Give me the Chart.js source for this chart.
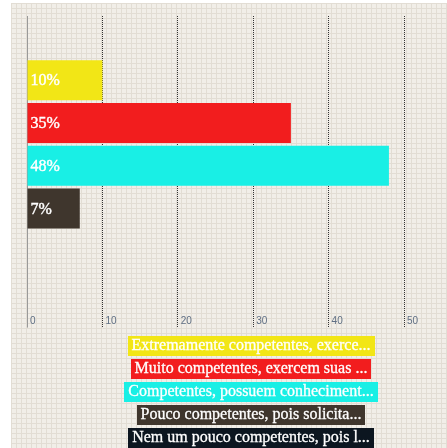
<!DOCTYPE html>
<html>
<head>
<meta charset="utf-8">
<script src="https://cdn.jsdelivr.net/npm/chart.js@4/dist/chart.umd.min.js"></script>
<style>
  html, body { margin: 0; padding: 0; background: #fff; }
  #wrap { position: relative; width: 447px; height: 448px; overflow: hidden; }
  #paper {
    position: absolute; left: 11px; top: 3px; right: 0; bottom: 0;
    background-color: #f1eee8;
    background-image:
      linear-gradient(to right, #e2ddd4 1px, transparent 1px),
      linear-gradient(to bottom, #e2ddd4 1px, transparent 1px);
    background-size: 5px 5px;
  }
  #box { position: absolute; left: 0; top: 0; width: 447px; height: 340px; }
  #legenda {
    position: absolute; left: 55px; top: 336px; width: 392px;
    display: flex; flex-direction: column; align-items: center; gap: 3px;
  }
  #legenda span {
    display: block; padding: 0 4px; height: 20px; line-height: 20px;
    color: #fff; font: 16px "Liberation Serif", "Times New Roman", serif; white-space: nowrap;
    -webkit-text-stroke: 0.3px #fff;
  }
</style>
</head>
<body>
<div id="wrap">
  <div id="paper"></div>
  <div id="box"><canvas id="chartCompetencia"></canvas></div>
  <div id="legenda"></div>
</div>
<script>
// Respostas
const categorias = [
  "Extremamente competentes, exerce...",
  "Muito competentes, exercem suas ...",
  "Competentes, possuem conheciment...",
  "Pouco competentes, pois solicita...",
  "Nem um pouco competentes, pois l..."
];
const percentuais = [10, 35, 48, 7, 0];
const cores = ["#f2e616", "#f21d1e", "#19efe5", "#3f362d", "#0c1620"];

// uma faixa vazia em cima e outra embaixo
const rotulos = ["", ...categorias, ""];
const valores = [null, ...percentuais, null];
const coresBarras = ["transparent", ...cores, "transparent"];

// texto "xx%" dentro das barras
const rotuloBarra = {
  id: "rotuloBarra",
  afterDatasetsDraw(chart) {
    const ctx = chart.ctx;
    const meta = chart.getDatasetMeta(0);
    ctx.save();
    ctx.fillStyle = "#fff";
    ctx.strokeStyle = "#fff";
    ctx.lineWidth = 0.4;
    ctx.font = '16px "Liberation Serif", serif';
    ctx.textAlign = "left";
    ctx.textBaseline = "middle";
    meta.data.forEach((bar, i) => {
      const v = valores[i];
      if (!v) return;
      ctx.fillText(v + "%", bar.base + 3, bar.y + 1);
      ctx.strokeText(v + "%", bar.base + 3, bar.y + 1);
    });
    ctx.restore();
  }
};

const zero = c => c.tick && c.tick.value === 0;

const ctx = document.getElementById("chartCompetencia");
new Chart(ctx, {
  type: "bar",
  data: {
    labels: rotulos,
    datasets: [{
      data: valores,
      backgroundColor: coresBarras,
      borderWidth: 0,
      categoryPercentage: 1,
      barPercentage: 0.935
    }]
  },
  options: {
    indexAxis: "y",
    responsive: true,
    maintainAspectRatio: false,
    animation: false,
    devicePixelRatio: 1,
    layout: { padding: { left: 27, right: 43, top: 16, bottom: 12.4 } },
    plugins: { legend: { display: false }, tooltip: { enabled: false } },
    scales: {
      y: { display: false },
      x: {
        min: 0,
        max: 50,
        afterFit: s => { s.height = 12; },
        ticks: {
          stepSize: 10,
          align: "start",
          labelOffset: 3,
          mirror: true,
          padding: -12,
          color: "#5f6f84",
          font: { family: '"Liberation Sans", sans-serif', size: 10 }
        },
        grid: {
          color: c => zero(c) ? "#999" : "#333",
          tickColor: c => zero(c) ? "#999" : "#333",
          tickBorderDash: c => zero(c) ? [] : [1, 1],
          tickLength: 12,
          lineWidth: 1
        },
        border: { display: false, dash: c => zero(c) ? [] : [1, 1] }
      }
    }
  },
  plugins: [rotuloBarra]
});

// legenda em caixas coloridas
const legenda = document.getElementById("legenda");
categorias.forEach((nome, i) => {
  const item = document.createElement("span");
  item.textContent = nome;
  item.style.background = cores[i];
  legenda.appendChild(item);
});
</script>
</body>
</html>
